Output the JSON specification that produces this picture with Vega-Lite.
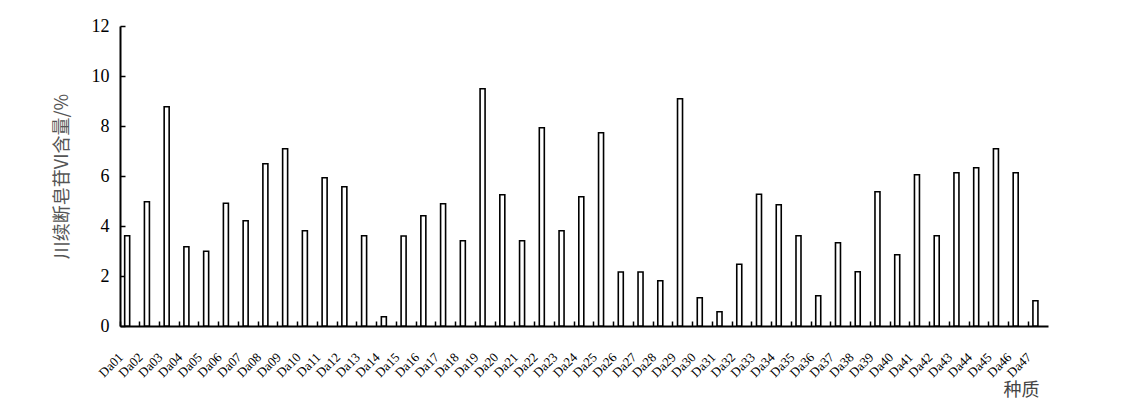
{
  "$schema": "https://vega.github.io/schema/vega-lite/v6.json",
  "autosize": "none",
  "width": 928,
  "height": 300,
  "padding": {"left": 120, "top": 26, "right": 74, "bottom": 84},
  "background": "white",
  "config": {
    "view": {"stroke": null}
  },
  "data": {
    "values": [
      {"id": "Da01", "v": 3.61}, {"id": "Da02", "v": 4.97}, {"id": "Da03", "v": 8.77},
      {"id": "Da04", "v": 3.17}, {"id": "Da05", "v": 2.99}, {"id": "Da06", "v": 4.91},
      {"id": "Da07", "v": 4.21}, {"id": "Da08", "v": 6.49}, {"id": "Da09", "v": 7.09},
      {"id": "Da10", "v": 3.81}, {"id": "Da11", "v": 5.93}, {"id": "Da12", "v": 5.57},
      {"id": "Da13", "v": 3.61}, {"id": "Da14", "v": 0.37}, {"id": "Da15", "v": 3.6},
      {"id": "Da16", "v": 4.41}, {"id": "Da17", "v": 4.89}, {"id": "Da18", "v": 3.41},
      {"id": "Da19", "v": 9.49}, {"id": "Da20", "v": 5.25}, {"id": "Da21", "v": 3.41},
      {"id": "Da22", "v": 7.93}, {"id": "Da23", "v": 3.81}, {"id": "Da24", "v": 5.17},
      {"id": "Da25", "v": 7.73}, {"id": "Da26", "v": 2.16}, {"id": "Da27", "v": 2.16},
      {"id": "Da28", "v": 1.81}, {"id": "Da29", "v": 9.09}, {"id": "Da30", "v": 1.13},
      {"id": "Da31", "v": 0.57}, {"id": "Da32", "v": 2.47}, {"id": "Da33", "v": 5.27},
      {"id": "Da34", "v": 4.85}, {"id": "Da35", "v": 3.61}, {"id": "Da36", "v": 1.21},
      {"id": "Da37", "v": 3.33}, {"id": "Da38", "v": 2.17}, {"id": "Da39", "v": 5.37},
      {"id": "Da40", "v": 2.85}, {"id": "Da41", "v": 6.05}, {"id": "Da42", "v": 3.61},
      {"id": "Da43", "v": 6.13}, {"id": "Da44", "v": 6.33}, {"id": "Da45", "v": 7.09},
      {"id": "Da46", "v": 6.13}, {"id": "Da47", "v": 1.01}
    ]
  },
  "layer": [
    {
      "mark": {"type": "bar", "width": 5, "xOffset": -2.7, "fill": "white", "stroke": "black", "strokeWidth": 1.6},
      "encoding": {
        "x": {
          "field": "id", "type": "nominal", "sort": null,
          "scale": {"paddingInner": 0, "paddingOuter": 0},
          "axis": {
            "title": "种质",
            "titleFont": "Noto Sans CJK SC",
            "titleFontWeight": "normal",
            "titleFontSize": 18,
            "titleColor": "#444",
            "titleX": 901,
            "titleY": 64,
            "titleAlign": "center",
            "titleBaseline": "middle",
            "bandPosition": 0,
            "labels": false,
            "tickSize": -5,
            "tickColor": "black",
            "tickWidth": 1.5,
            "domainColor": "black",
            "domainWidth": 2
          }
        },
        "y": {
          "field": "v", "type": "quantitative",
          "scale": {"domain": [0, 12], "nice": false},
          "axis": {
            "title": "川续断皂苷VI含量/%",
            "titleFont": "Noto Sans CJK SC",
            "titleFontWeight": "normal",
            "titleFontSize": 18,
            "titleColor": "#555",
            "titlePadding": 20,
            "values": [0, 2, 4, 6, 8, 10, 12],
            "grid": false,
            "labelFont": "Liberation Serif",
            "labelFontSize": 18,
            "labelColor": "black",
            "labelPadding": 16,
            "tickSize": -5,
            "tickColor": "black",
            "tickWidth": 1.5,
            "domainColor": "black",
            "domainWidth": 2
          }
        }
      }
    },
    {
      "mark": {"type": "text", "angle": 315, "align": "right", "baseline": "top", "font": "Liberation Serif", "fontSize": 13, "color": "black", "xOffset": -13, "yOffset": 25},
      "encoding": {
        "x": {"field": "id", "type": "nominal", "sort": null},
        "y": {"datum": 0},
        "text": {"field": "id"}
      }
    }
  ]
}
